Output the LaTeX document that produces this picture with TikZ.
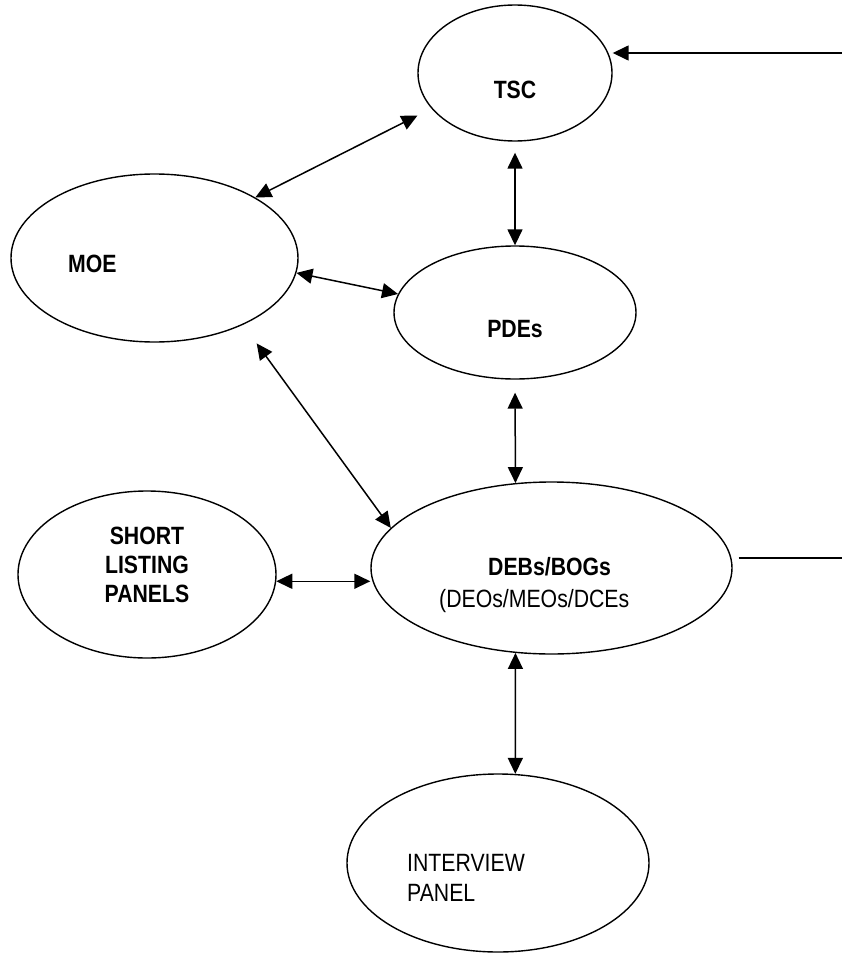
\documentclass[tikz,border=0pt]{standalone}
\usepackage{fontspec}
\setmainfont{Liberation Sans}[FakeStretch=0.85]
\usetikzlibrary{shapes.geometric,arrows.meta}
\begin{document}
\begin{tikzpicture}[x=1pt,y=-1pt,
  ell/.style={draw, ellipse, line width=1.4pt, inner sep=0pt},
  lbl/.style={inner sep=0pt, font=\fontsize{25}{30}\selectfont},
  bl/.style={inner sep=0pt, font=\fontsize{25}{29}\selectfont\bfseries},
  conn/.style={line width=1.5pt},
  tip/.tip={Triangle[length=16pt,width=15pt]},
  arr/.style={conn, tip-tip},
  arrone/.style={conn, -tip}]
\useasboundingbox (0,0) rectangle (842,953);

% ellipses
\node[ell, minimum width=194pt, minimum height=136pt] (tsc) at (515,73) {};
\node[ell, minimum width=287pt, minimum height=168pt] (moe) at (154.5,258) {};
\node[ell, minimum width=242pt, minimum height=133pt] (pdes) at (515,312.5) {};
\node[ell, minimum width=258pt, minimum height=167pt] (short) at (147,574.5) {};
\node[ell, minimum width=361pt, minimum height=172pt] (debs) at (551.5,568) {};
\node[ell, minimum width=302pt, minimum height=178pt] (interview) at (498,863) {};

% labels
\node[bl, anchor=base] (tsct) at (515,98) {TSC};
\node[bl, anchor=base west] (moet) at (68,272) {MOE};
\node[bl, anchor=base] (pdest) at (515,337) {PDEs};
\node[bl, align=center] (shortt) at (147,565) {SHORT\\LISTING\\PANELS};
\node[bl, anchor=base west] (debst) at (488,575) {DEBs/BOGs};
\node[lbl, anchor=base west] (debss) at (439,607) {(DEOs/MEOs/DCEs};
\node[lbl, align=left, anchor=west] (interviewt) at (407,878) {INTERVIEW\\PANEL};

% connectors
\coordinate (inR) at (842,53);
\draw[arrone] (inR) -- (inR -| tsc.east);
\draw[arr, shorten >=15.5pt] (moe.31) -- (tsc.203);
\draw[arr, shorten <=11pt] (tsc.south) -- (pdes.north);
\draw[arr] (moe.-6) -- (pdes.171);
\draw[arr, shorten <=23pt] (moe.-37) -- (debs.166);
\draw[arr, shorten <=13pt] (pdes.south) -- (debs.113);
\draw[arr] (short.-3) -- (short.-3 -| debs.west);
\draw[arr] (debs.-113) -- (interview.79);
\coordinate (outR) at (842,558);
\draw[conn] (debs.east |- outR) ++(6,0) -- (outR);
\end{tikzpicture}
\end{document}
